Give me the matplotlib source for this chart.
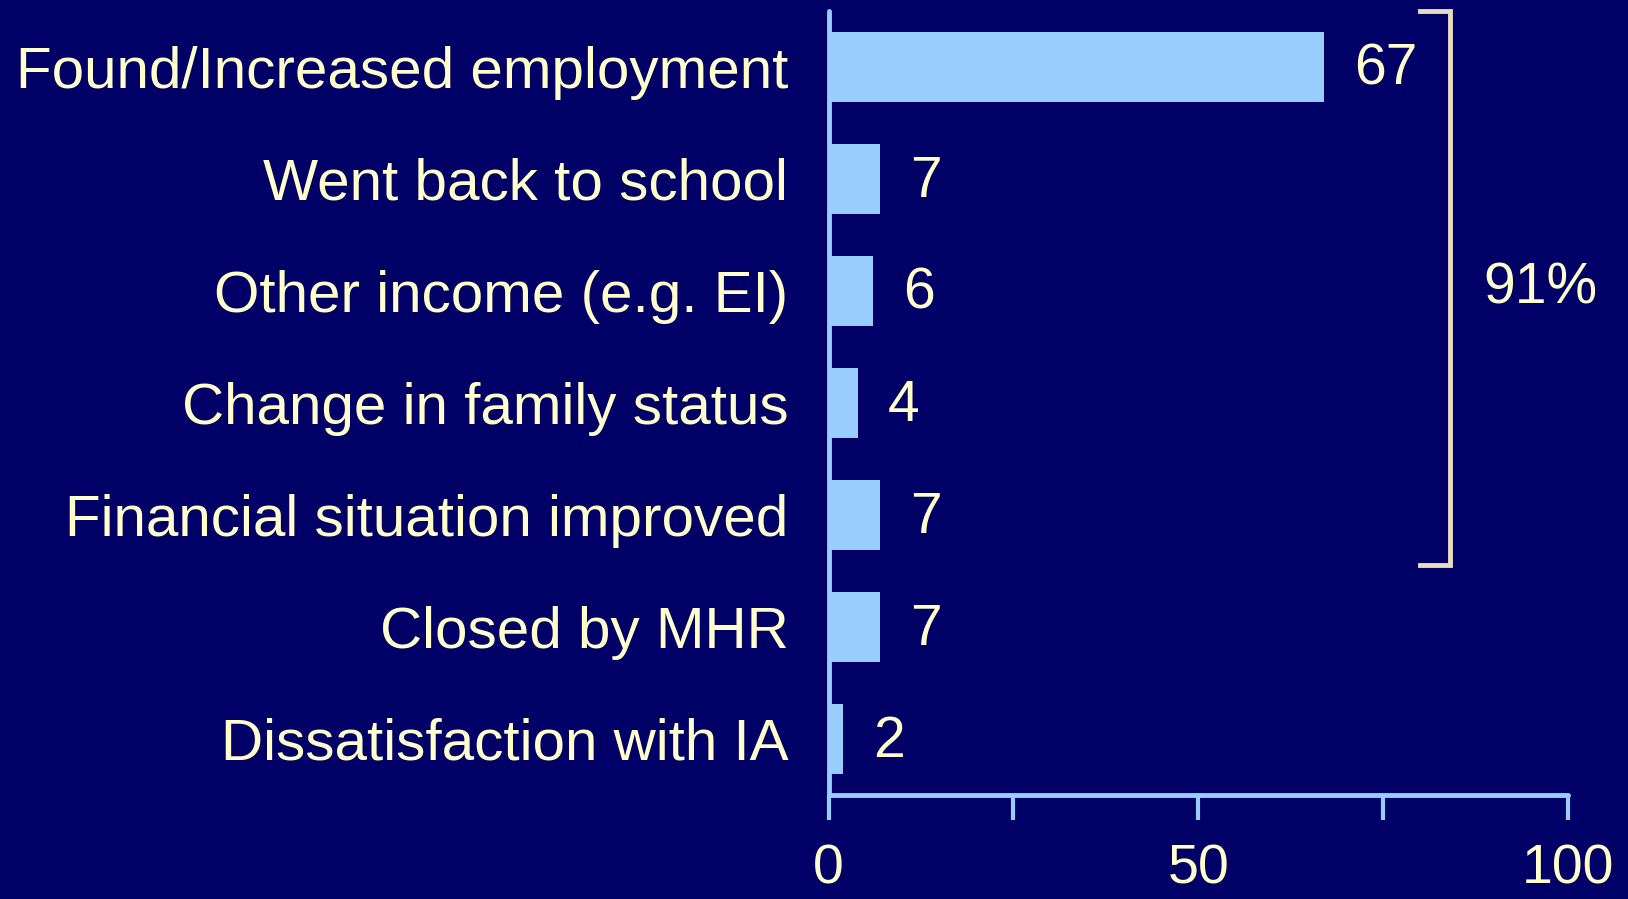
import numpy as np
import matplotlib
matplotlib.use("Agg")
import matplotlib.pyplot as plt

categories = ["Found/Increased employment", "Went back to school", "Other income (e.g. EI)",
              "Change in family status", "Financial situation improved", "Closed by MHR",
              "Dissatisfaction with IA"]
values = [67, 7, 6, 4, 7, 7, 2]
bracket_label = "91%"

BG = "#000066"
BAR = "#99CCFF"
TXT = "#FFFFCC"
BRK = "#E8DDBF"

plt.rcParams['font.family'] = ['Liberation Sans', 'DejaVu Sans']

fig = plt.figure(figsize=(16.28, 8.99), dpi=100, facecolor=BG)
ax = fig.add_axes([0.509, 0.1157, 0.454, 0.8723], facecolor=BG)

y = np.arange(len(categories))
ax.barh(y, values, height=0.62, color=BAR, zorder=2)

for yi, v in zip(y, values):
    ax.annotate(str(v), (v, yi), xytext=(30, -3), textcoords="offset pixels",
                ha="left", va="center", color=TXT, fontsize=41)

ax.set_xlim(0, 100)
ax.set_ylim(6.5, -0.5)
ax.set_yticks(y)
ax.set_yticklabels(categories)
ax.set_xticks([0, 50, 100])
ax.set_xticks([25, 75], minor=True)
ax.tick_params(axis="y", length=0, pad=29, labelsize=42, labelcolor=TXT)
ax.tick_params(axis="x", which="both", length=18, width=3, color=BAR, direction="out",
               pad=17, labelsize=40, labelcolor=TXT)

for s in ["top", "right"]:
    ax.spines[s].set_visible(False)
for s in ["left", "bottom"]:
    ax.spines[s].set_color(BAR)
    ax.spines[s].set_linewidth(3.5)
    ax.spines[s].set_capstyle("round")

# bracket grouping the first five reasons
bx = [80, 84, 84, 80]
by = [-0.5, -0.5, 4.45, 4.45]
ax.plot(bx, by, color=BRK, lw=3.5, clip_on=False, solid_joinstyle="miter")
ax.text(96.3, (-0.5 + 4.45) / 2, bracket_label, ha="center", va="center",
        color=TXT, fontsize=41, clip_on=False)

fig.savefig("out.png", dpi=100, facecolor=BG)
